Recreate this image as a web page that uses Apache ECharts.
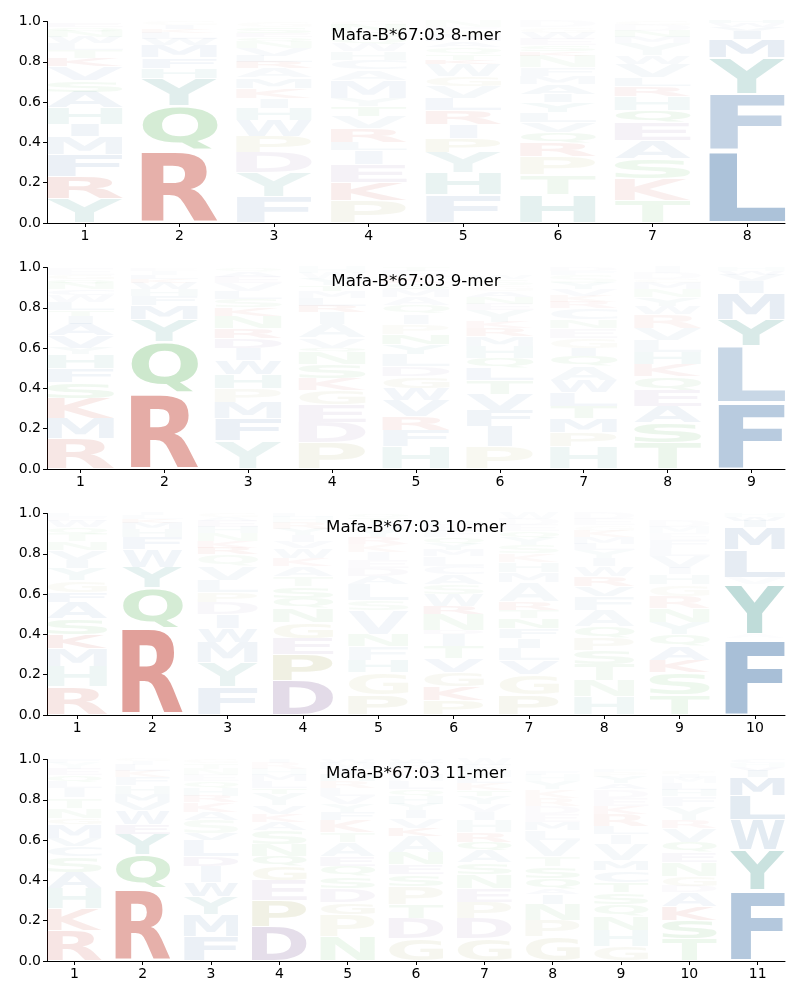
<!DOCTYPE html>
<html><head><meta charset="utf-8">
<script src="https://cdn.jsdelivr.net/npm/echarts@6/dist/echarts.min.js"></script>
<style>html,body{margin:0;padding:0;background:#fff}#c{width:800px;height:1000px}</style>
</head><body><div id="c"></div>
<script>
// Panel titles
const titles = ['Mafa-B*67:03 8-mer', 'Mafa-B*67:03 9-mer', 'Mafa-B*67:03 10-mer', 'Mafa-B*67:03 11-mer'];
const yTicks = [0, 0.2, 0.4, 0.6, 0.8, 1.0];

// Each column: [letter, frequency %, weight %] listed bottom to top
const mer8 = [
  [['Y',12,12],['R',11,12],['F',11,10],['M',9,8],['I',6,8],['H',8,8],['A',8,8],['S',6,5],['V',7,6],['K',4,6],['T',4,4],['L',3,4],['W',3,4],['N',3,3],['Q',2,3],['E',2,3]],
  [['R',36,40],['Q',22,20],['Y',14,14],['H',5,6],['F',5,6],['M',6,6],['W',3,4],['L',3,3],['K',2,3],['I',2,3],['G',2,2]],
  [['F',13,10],['Y',12,10],['D',10,8],['P',8,8],['W',8,7],['H',6,6],['I',5,5],['K',5,5],['M',5,5],['A',5,4],['R',3,5],['L',3,4],['V',4,4],['N',3,3],['Q',2,3],['E',2,3],['S',3,3],['G',3,2]],
  [['P',11,9],['K',9,9],['E',9,8],['I',7,6],['L',4,5],['R',7,7],['V',6,5],['T',5,5],['Y',4,4],['M',9,6],['A',5,4],['C',5,4],['H',4,4],['W',4,3],['Q',3,3],['S',3,3],['N',3,3],['G',2,2]],
  [['F',14,10],['H',11,10],['Y',10,9],['P',7,8],['I',7,6],['R',7,7],['L',6,6],['V',6,5],['G',5,5],['W',6,5],['K',2,5],['T',3,3],['Q',3,3],['A',3,3],['M',3,3],['S',2,2],['E',2,2],['N',3,2]],
  [['H',14,12],['T',10,7],['P',9,8],['R',7,7],['Q',5,6],['V',5,5],['L',5,5],['Y',5,5],['I',4,5],['A',5,5],['M',4,4],['F',4,4],['N',6,4],['K',2,4],['S',3,3],['E',3,3],['W',3,3],['G',3,2],['D',3,2]],
  [['T',11,8],['K',11,8],['S',10,8],['A',9,8],['E',9,8],['Q',6,7],['H',7,6],['R',5,6],['L',4,5],['V',7,5],['W',4,4],['Y',6,4],['M',3,3],['N',3,3],['D',3,2],['G',2,2]],
  [['L',36,42],['F',28,30],['Y',18,20],['M',9,12],['I',4,8],['V',2,4],['W',2,3],['H',1,3]]
];
const mer9 = [
  [['R',15,12],['M',10,9],['K',10,10],['S',8,7],['F',7,7],['H',7,7],['Y',3,4],['V',6,6],['A',6,6],['I',4,5],['T',3,4],['L',4,5],['W',3,3],['C',3,3],['N',3,3],['Q',2,3],['G',2,3],['E',3,2]],
  [['R',38,42],['Q',25,24],['Y',11,12],['M',7,8],['F',5,5],['H',3,4],['W',3,4],['K',2,3],['L',2,3],['I',2,2],['E',1,2]],
  [['Y',14,10],['F',11,10],['M',8,8],['P',7,6],['H',7,7],['W',7,7],['I',6,6],['D',5,6],['R',5,6],['N',6,5],['K',4,5],['S',4,4],['L',4,4],['V',4,3],['E',3,3],['A',3,3],['Q',2,2]],
  [['P',13,10],['D',10,8],['E',9,8],['G',7,7],['K',6,6],['S',7,6],['N',6,5],['Q',2,4],['V',5,4],['A',7,5],['I',6,5],['R',3,5],['L',4,4],['M',3,3],['T',3,3],['Y',3,3],['W',3,2],['H',3,2]],
  [['H',11,8],['F',8,7],['R',7,7],['V',8,7],['W',6,6],['G',6,6],['D',5,5],['L',6,5],['Y',5,5],['N',5,5],['P',5,4],['I',5,4],['Q',4,4],['A',4,3],['M',4,3],['S',3,3],['K',3,3],['E',3,2],['T',2,2]],
  [['P',11,8],['I',10,8],['F',8,8],['V',8,7],['T',7,6],['L',6,6],['Q',5,5],['H',6,5],['M',5,5],['R',4,5],['K',3,4],['Y',6,4],['E',3,3],['N',3,3],['A',3,3],['G',3,2],['S',3,2],['W',2,2]],
  [['H',11,8],['P',7,7],['M',7,7],['T',6,6],['L',7,6],['W',6,6],['A',7,5],['Q',5,5],['I',4,5],['G',5,4],['E',5,4],['N',4,4],['C',6,4],['R',3,4],['K',3,3],['V',3,3],['Y',3,3],['S',4,2],['F',2,2],['D',2,2]],
  [['T',13,9],['S',10,9],['A',8,8],['E',8,7],['Q',7,6],['K',6,6],['H',6,6],['L',6,5],['V',6,5],['R',7,5],['W',4,4],['Y',4,4],['N',4,3],['M',3,3],['G',2,2],['D',3,2],['I',3,2]],
  [['F',33,36],['L',28,28],['Y',13,18],['M',13,12],['I',6,7],['V',3,4],['W',2,3],['H',2,2]]
];
const mer10 = [
  [['R',14,12],['H',10,8],['M',9,8],['K',7,9],['S',8,7],['A',8,7],['F',5,6],['G',6,5],['Y',6,5],['I',4,5],['V',5,5],['N',4,4],['T',4,3],['Q',3,3],['W',3,3],['E',2,2],['L',2,2]],
  [['R',43,48],['Q',20,20],['Y',10,12],['W',9,7],['F',6,6],['H',4,4],['M',3,4],['K',2,3],['L',2,2],['I',1,2]],
  [['F',14,10],['Y',12,10],['M',10,8],['W',7,7],['I',7,6],['D',6,5],['P',5,5],['L',6,5],['V',7,5],['Q',6,4],['R',3,5],['K',3,4],['N',4,3],['H',3,3],['E',3,3],['A',2,2],['G',2,2]],
  [['D',17,22],['P',13,16],['E',8,8],['G',8,8],['N',7,6],['Q',5,5],['S',6,5],['T',5,4],['A',5,4],['K',4,4],['W',5,4],['V',3,3],['I',3,3],['Y',3,3],['R',3,3],['H',3,2],['L',2,2]],
  [['P',10,9],['G',11,8],['H',6,6],['F',7,5],['N',6,5],['V',12,6],['S',5,4],['L',8,5],['A',4,4],['D',4,4],['E',4,3],['I',4,3],['K',4,3],['R',3,4],['Y',4,3],['W',3,2],['T',3,2],['Q',2,2]],
  [['P',7,8],['K',7,7],['G',7,7],['V',7,6],['T',6,5],['I',6,5],['D',2,3],['N',8,5],['R',4,6],['W',6,5],['S',5,4],['A',5,4],['C',4,3],['L',5,3],['M',3,3],['Y',3,3],['Q',3,3],['F',3,2],['E',3,2],['H',2,2]],
  [['P',10,9],['G',10,8],['V',7,6],['L',6,5],['I',5,5],['F',5,5],['N',5,5],['T',4,4],['R',4,5],['A',10,5],['M',5,4],['H',5,4],['K',4,3],['S',4,3],['Y',4,3],['Q',3,3],['E',3,2],['D',3,2],['W',3,2]],
  [['H',9,7],['N',8,6],['T',8,6],['S',7,6],['P',6,6],['Q',6,5],['A',8,5],['F',7,5],['V',5,5],['R',5,5],['W',5,4],['I',4,4],['Y',4,3],['L',3,3],['M',3,3],['K',3,3],['G',3,2],['E',3,2],['D',3,2]],
  [['T',10,8],['S',11,8],['K',6,7],['A',7,6],['Q',6,5],['Y',6,5],['N',7,5],['R',6,5],['G',6,4],['H',5,4],['I',3,3],['V',6,4],['L',4,3],['F',4,3],['E',3,2],['M',3,2],['D',3,2]],
  [['F',38,44],['A',2,1],['Y',25,30],['V',3,2],['L',14,13],['M',11,12],['I',3,5],['W',2,4],['H',2,2]]
];
const mer11 = [
  [['R',15,13],['K',11,10],['H',10,8],['A',8,8],['S',8,6],['C',5,5],['V',4,5],['M',7,6],['G',3,4],['N',5,4],['T',5,4],['I',5,4],['L',3,3],['Q',3,3],['E',3,3],['Y',3,2],['F',2,2]],
  [['R',36,40],['Q',17,18],['Y',10,12],['E',5,6],['W',7,6],['V',4,5],['M',4,5],['H',4,4],['F',4,4],['K',3,3],['L',3,3],['I',2,2],['G',1,2]],
  [['F',12,10],['M',11,9],['Y',9,9],['W',7,8],['I',8,6],['D',5,6],['L',8,6],['V',3,5],['S',7,4],['A',4,4],['K',5,4],['R',3,4],['H',4,3],['Q',3,3],['E',3,2],['N',3,2],['T',3,2],['G',2,2]],
  [['D',17,20],['P',13,15],['E',10,8],['G',7,8],['Q',5,6],['N',6,5],['S',7,5],['A',4,4],['K',4,4],['V',4,4],['Y',6,4],['T',3,3],['L',3,3],['M',3,3],['H',3,2],['R',3,2],['I',2,2]],
  [['N',12,8],['P',11,8],['G',6,7],['D',7,6],['S',6,5],['Q',5,5],['E',5,5],['A',7,5],['T',5,4],['K',6,5],['F',4,4],['Y',4,3],['V',4,3],['L',4,3],['R',3,3],['H',3,3],['I',3,3],['M',3,2],['W',2,2]],
  [['G',11,9],['D',10,8],['T',7,6],['P',9,7],['S',6,5],['E',5,5],['N',6,5],['A',8,5],['K',4,5],['V',5,4],['I',4,4],['Y',3,3],['H',4,3],['Q',3,3],['L',4,3],['M',3,2],['R',3,2],['F',3,2],['W',2,2]],
  [['G',11,9],['D',10,8],['P',8,7],['E',7,6],['N',7,5],['S',6,5],['A',6,5],['Q',4,5],['R',5,5],['H',6,4],['I',4,4],['V',4,3],['Y',4,3],['T',3,3],['K',3,3],['L',3,3],['M',3,2],['F',3,2],['W',3,2]],
  [['G',12,9],['P',8,7],['N',8,6],['I',5,5],['A',3,3],['Q',5,5],['S',6,5],['T',5,4],['V',8,5],['L',5,4],['M',4,4],['E',4,3],['D',4,3],['R',4,3],['K',4,3],['Y',4,3],['H',3,2],['F',2,2]],
  [['G',7,7],['H',8,6],['N',7,6],['Q',6,5],['S',6,5],['T',5,5],['C',6,5],['M',5,5],['V',8,5],['I',5,4],['L',4,4],['R',6,5],['K',4,4],['E',4,3],['D',4,3],['A',3,3],['Y',3,3],['P',3,2],['F',1,2]],
  [['T',11,8],['S',9,9],['K',7,8],['A',7,6],['D',3,3],['G',5,5],['N',7,5],['E',5,5],['Q',5,5],['V',7,5],['R',4,4],['Y',7,4],['F',5,3],['H',3,3],['L',3,3],['M',3,2],['I',2,2],['P',1,2]],
  [['F',35,38],['Y',20,25],['W',15,14],['L',12,14],['M',9,12],['I',3,5],['V',2,3],['H',2,2],['C',2,2]]
];
const panels = [mer8, mer9, mer10, mer11];

// ---- styling ----
const groupColor = {blue:'#3a6ea5', teal:'#2a8a80', red:'#c0392b', green:'#2ca02c', purple:'#7e5a96', khaki:'#a0a050'};
const letterGroup = {A:'blue',C:'blue',F:'blue',I:'blue',L:'blue',M:'blue',V:'blue',W:'blue',
  Y:'teal',H:'teal',K:'red',R:'red',N:'green',Q:'green',S:'green',T:'green',D:'purple',E:'purple',G:'khaki',P:'khaki'};
const LETTERS = 'ACDEFGHIKLMNPQRSTVWY';

const FONT_FAMILY = 'DejaVu Sans';
const mctx = document.createElement('canvas').getContext('2d');
mctx.font = 'bold 100px ' + FONT_FAMILY;
mctx.textBaseline = 'middle';
mctx.textAlign = 'left';
const mcache = {};
function metrics(ch) {
  if (!mcache[ch]) {
    const m = mctx.measureText(ch);
    mcache[ch] = {l: m.actualBoundingBoxLeft, r: m.actualBoundingBoxRight, a: m.actualBoundingBoxAscent, d: m.actualBoundingBoxDescent};
  }
  return mcache[ch];
}

const tops = [21.5, 267.5, 513.5, 759.5];
const H = 201.5;
const HALF = 0.4;   // half glyph width in axis units
const VPAD = 0.03;  // fraction of glyph box per side

function renderItem(params, api) {
  const x = api.value(0), y0 = api.value(1), y1 = api.value(2);
  const ch = LETTERS[api.value(3)];
  const w = api.value(4);
  const p0 = api.coord([x - HALF, y0]);
  const p1 = api.coord([x + HALF, y1]);
  const bw = p1[0] - p0[0];
  const bh = p0[1] - p1[1];
  const pad = bh * VPAD;
  const h = bh - 2 * pad;
  if (h <= 0.2) return null;
  const m = metrics(ch), mE = metrics('E');
  const sx = Math.min(bw / (m.l + m.r), bw / (mE.l + mE.r));
  const sy = h / (m.a + m.d);
  const cx = (p0[0] + p1[0]) / 2;
  const ex = cx - sx * (m.r - m.l) / 2;
  const ey = p1[1] + pad + sy * m.a;
  return {
    type: 'text', x: ex, y: ey, scaleX: sx, scaleY: sy, silent: true,
    style: {text: ch, fontSize: 100, fontWeight: 'bold', fontFamily: FONT_FAMILY,
      fill: groupColor[letterGroup[ch]], opacity: Math.min(1, w), align: 'left', verticalAlign: 'middle'}
  };
}

const grid = [], xAxis = [], yAxis = [], series = [], title = [];
panels.forEach((cols, i) => {
  const n = cols.length;
  const positions = cols.map((c, k) => k + 1);
  grid.push({left: 47, right: 15, top: tops[i], height: H});
  xAxis.push({type: 'value', gridIndex: i, min: 0.6, max: n + 0.4,
    axisLine: {show: true, onZero: false, lineStyle: {color: '#000', width: 1}},
    axisTick: {show: true, length: 4, customValues: positions, lineStyle: {color: '#000', width: 1}},
    axisLabel: {customValues: positions, color: '#000', fontSize: 14, fontFamily: FONT_FAMILY, margin: 6},
    splitLine: {show: false}});
  yAxis.push({type: 'value', gridIndex: i, min: 0, max: 1, interval: 0.2,
    axisLine: {show: true, lineStyle: {color: '#000', width: 1}},
    axisTick: {show: true, length: 4, lineStyle: {color: '#000', width: 1}},
    axisLabel: {color: '#000', fontSize: 14, fontFamily: FONT_FAMILY, margin: 6, formatter: v => v.toFixed(1)},
    splitLine: {show: false}});
  const data = [];
  cols.forEach((col, k) => {
    const total = Math.max(100, col.reduce((s, e) => s + e[1], 0));
    let acc = 0;
    col.forEach(([ch, f, wt]) => {
      const y0 = acc / total; acc += f; const y1 = acc / total;
      data.push([k + 1, y0, y1, LETTERS.indexOf(ch), wt / 100]);
    });
  });
  series.push({type: 'custom', xAxisIndex: i, yAxisIndex: i, renderItem, data,
    encode: {x: 0, y: [1, 2]}, animation: false, clip: false});
  title.push({text: titles[i], left: 416, top: tops[i] + 5.5, textAlign: 'center', padding: 0,
    textStyle: {fontSize: 16.7, fontWeight: 'normal', color: '#000', fontFamily: FONT_FAMILY}});
});

const chart = echarts.init(document.getElementById('c'), null, {renderer: 'canvas'});
chart.setOption({animation: false, backgroundColor: '#fff', title, grid, xAxis, yAxis, series});
</script></body></html>
